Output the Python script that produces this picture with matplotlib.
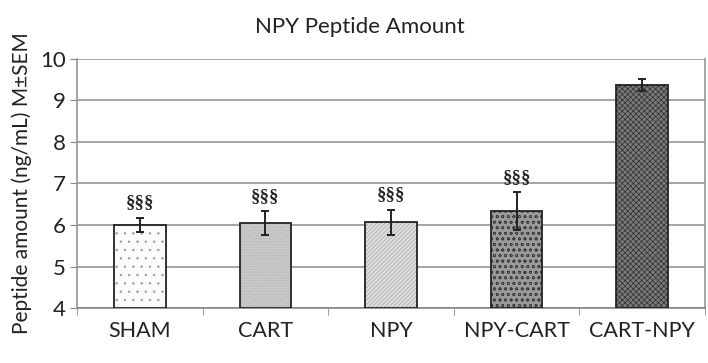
import matplotlib.pyplot as plt
import numpy as np

plt.rcParams['font.family'] = ['Lato', 'DejaVu Sans']
plt.rcParams['hatch.linewidth'] = 0.5

groups = ["SHAM", "CART", "NPY", "NPY-CART", "CART-NPY"]
means = [6.00, 6.04, 6.07, 6.34, 9.37]
sems = [0.18, 0.29, 0.30, 0.45, 0.15]
marks = ["§§§", "§§§", "§§§", "§§§", ""]

faces = ["#fbfbfb", "#c9c9c9", "#dedede", "#9a9a9a", "#7a7a7a"]
hatches = ["..", "......", "////////", "ooo", "xxxxxx"]
hatch_cols = ["#9a9a9a", "#b0b0b0", "#a5a5a5", "#3a3a3a", "#2e2e2e"]

fig = plt.figure(figsize=(7.08, 3.63), dpi=100)
ax = fig.add_axes([0.1088, 0.1515, 0.8870, 0.6860])

x = np.arange(len(groups))
for i in range(len(groups)):
    ax.bar(x[i], means[i] - 4, bottom=4, width=0.41, color=faces[i],
           edgecolor=hatch_cols[i], hatch=hatches[i], linewidth=0, zorder=3)
    ax.bar(x[i], means[i] - 4, bottom=4, width=0.41, color="none",
           edgecolor="#222222", linewidth=1.3, zorder=4)
ax.errorbar(x, means, yerr=sems, fmt="none", ecolor="#222222",
            elinewidth=1.4, capsize=3, capthick=1.4, zorder=5)
for i in range(len(groups)):
    if marks[i]:
        ax.text(x[i], means[i] + sems[i] + 0.15, marks[i], ha="center",
                va="bottom", fontsize=13.5, fontweight="bold",
                family="Liberation Serif", color="#222222")

ax.set_xlim(-0.5, len(groups) - 0.5)
ax.set_ylim(4, 10)
ax.set_yticks(range(4, 11))
ax.yaxis.grid(True, color="#8c9999", linewidth=1.2, zorder=0)
ax.set_xticks(x)
ax.set_xticklabels(groups, fontsize=15.5, color="#222222")
ax.set_xticks(np.arange(-0.5, len(groups)), minor=True)
ax.tick_params(axis="x", which="major", length=0, pad=9)
ax.tick_params(axis="x", which="minor", length=5, color="#888888")
ax.tick_params(axis="y", length=5, color="#888888", labelsize=16,
               labelcolor="#222222", pad=3)
for s in ["left", "bottom", "right", "top"]:
    ax.spines[s].set_color("#8c9999")
    ax.spines[s].set_linewidth(1.2)
ax.spines["top"].set_visible(False)
ax.spines["bottom"].set_color("#888888")

ax.set_ylabel("Peptide amount (ng/mL) M±SEM", fontsize=15, color="#222222",
              labelpad=6)
fig.text(0.508, 0.925, "NPY Peptide Amount", ha="center", va="center",
         fontsize=16, color="#222222")

fig.savefig("out.png", dpi=100)
